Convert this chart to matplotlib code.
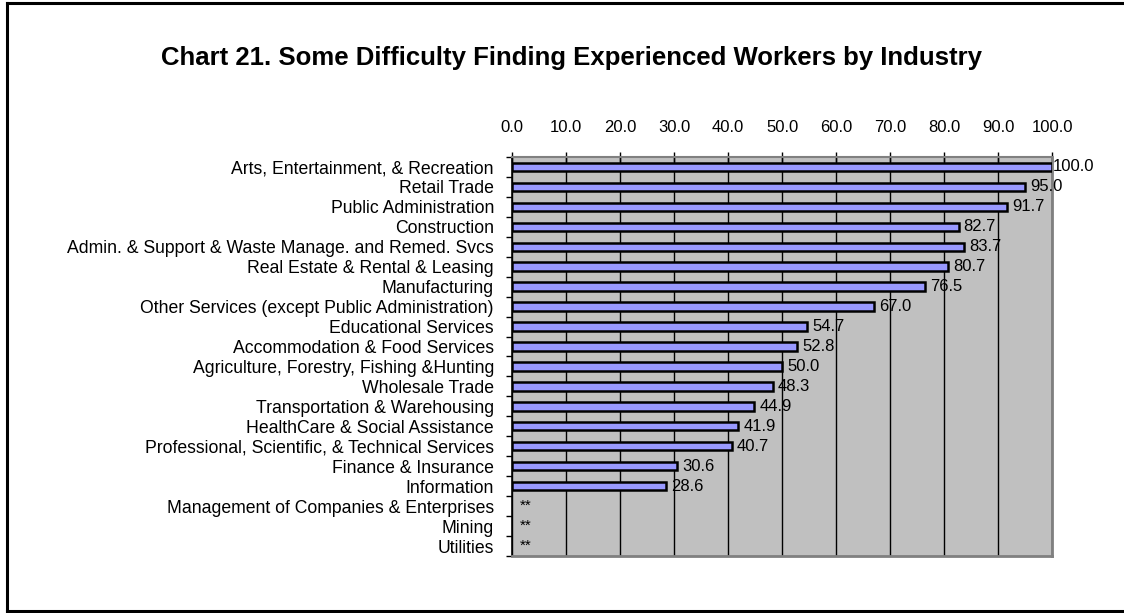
import numpy as np
import matplotlib.pyplot as plt
from matplotlib.lines import Line2D

plt.rcParams['font.family'] = ['Liberation Sans', 'DejaVu Sans']

# data, top to bottom as in the chart (None = suppressed, shown as **)
industries = ['Arts, Entertainment, & Recreation', 'Retail Trade', 'Public Administration',
              'Construction', 'Admin. & Support & Waste Manage. and Remed. Svcs',
              'Real Estate & Rental & Leasing', 'Manufacturing',
              'Other Services (except Public Administration)', 'Educational Services',
              'Accommodation & Food Services', 'Agriculture, Forestry, Fishing &Hunting',
              'Wholesale Trade', 'Transportation & Warehousing', 'HealthCare & Social Assistance',
              'Professional, Scientific, & Technical Services', 'Finance & Insurance',
              'Information', 'Management of Companies & Enterprises', 'Mining', 'Utilities']
pct = [100.0, 95.0, 91.7, 82.7, 83.7, 80.7, 76.5, 67.0, 54.7, 52.8, 50.0,
       48.3, 44.9, 41.9, 40.7, 30.6, 28.6, None, None, None]
xticks = np.arange(0, 101, 10)

fig = plt.figure(figsize=(11.24, 6.13), dpi=100)
ax = fig.add_axes([0.4555, 0.0930, 0.4805, 0.6510])

n = len(industries)
ypos = np.arange(n)

ax.set_facecolor('#C0C0C0')
ax.set_axisbelow(True)
ax.xaxis.grid(True, color='black', lw=1)

for i, v in enumerate(pct):
    if v is None:
        ax.text(1.5, i, '**', fontsize=11, ha='left', va='center')
        continue
    ax.barh(i, v, height=0.42, color='#9999FF', edgecolor='black', lw=1.8, zorder=3)
    ax.text(v + 3.9, i, '%.1f' % v, fontsize=12, ha='center', va='center', zorder=4)

ax.set_xlim(0, 100)
ax.set_ylim(n - 0.5, -0.5)
ax.xaxis.tick_top()
ax.set_xticks(xticks)
ax.set_xticklabels(['%.1f' % t for t in xticks], fontsize=12)
ax.tick_params(axis='x', direction='inout', length=7, width=1, pad=12)

ax.set_yticks(ypos)
ax.set_yticklabels(industries, fontsize=12.7)
ax.set_yticks(np.arange(-0.5, n, 1), minor=True)
ax.tick_params(axis='y', which='major', length=0, pad=13)
ax.tick_params(axis='y', which='minor', direction='out', length=4, width=1)

ax.spines['left'].set_color('black')
ax.spines['left'].set_linewidth(1.2)
ax.spines['top'].set_color('#808080')
ax.spines['top'].set_linewidth(1.5)
ax.spines['right'].set_color('#808080')
ax.spines['right'].set_linewidth(2)
ax.spines['bottom'].set_color('#808080')
ax.spines['bottom'].set_linewidth(2)

fig.text(0.5085, 0.905, 'Chart 21. Some Difficulty Finding Experienced Workers by Industry',
         fontsize=18.5, fontweight='bold', ha='center', va='center')

# outer frame (left, top, bottom)
fig.add_artist(Line2D([7 / 1124, 7 / 1124], [2 / 613, 1 - 3 / 613], color='black', lw=2.2))
fig.add_artist(Line2D([7 / 1124, 1], [1 - 3 / 613, 1 - 3 / 613], color='black', lw=2.2))
fig.add_artist(Line2D([7 / 1124, 1], [2 / 613, 2 / 613], color='black', lw=2.2))

fig.savefig('out.png', dpi=100)
